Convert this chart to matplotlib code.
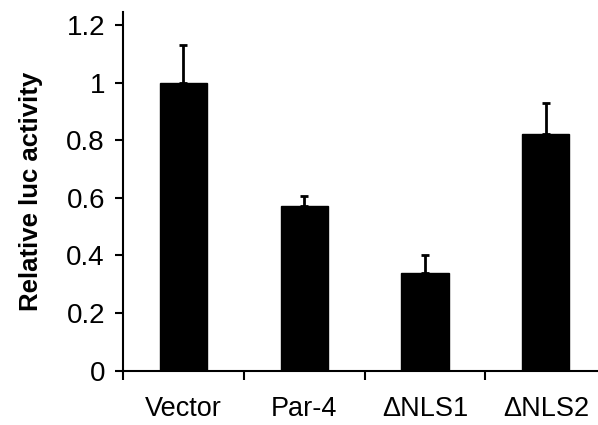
import matplotlib
matplotlib.use("Agg")
import matplotlib.pyplot as plt
import numpy as np

categories = ["Vector", "Par-4", "ΔNLS1", "ΔNLS2"]
values = [1.0, 0.57, 0.34, 0.82]
errors = [0.13, 0.035, 0.063, 0.11]

plt.rcParams['font.family'] = ['Liberation Sans', 'DejaVu Sans']

fig = plt.figure(figsize=(5.98, 4.25), dpi=100)
ax = fig.add_axes([0.2057, 0.1278, 0.794, 0.844])

x = np.arange(len(categories))
ax.bar(x, values, width=0.39, color='black', edgecolor='black', zorder=2)
ax.errorbar(x, values, yerr=[np.zeros(len(errors)), errors], fmt='none',
            ecolor='black', elinewidth=2, capsize=3, capthick=2, zorder=3)

ax.set_xlim(-0.5, 3.43)
ax.set_ylim(0, 1.245)
ax.set_yticks([0, 0.2, 0.4, 0.6, 0.8, 1.0, 1.2])
ax.set_yticklabels(["0", "0.2", "0.4", "0.6", "0.8", "1", "1.2"])
ax.set_xticks(x)
ax.set_xticklabels(categories)
ax.set_xticks([-0.5, 0.5, 1.5, 2.5], minor=True)

ax.spines['top'].set_visible(False)
ax.spines['right'].set_visible(False)
ax.spines['left'].set_linewidth(1.5)
ax.spines['bottom'].set_linewidth(1.5)

ax.tick_params(axis='y', which='major', length=6, width=1.5, labelsize=20, pad=7)
ax.tick_params(axis='x', which='major', length=0, labelsize=19.5, pad=18)
ax.tick_params(axis='x', which='minor', length=6.5, width=1.5, direction='out')

ax.set_ylabel("Relative luc activity", fontsize=18.5, fontweight='bold', labelpad=17)

fig.savefig("out.png", dpi=100)
